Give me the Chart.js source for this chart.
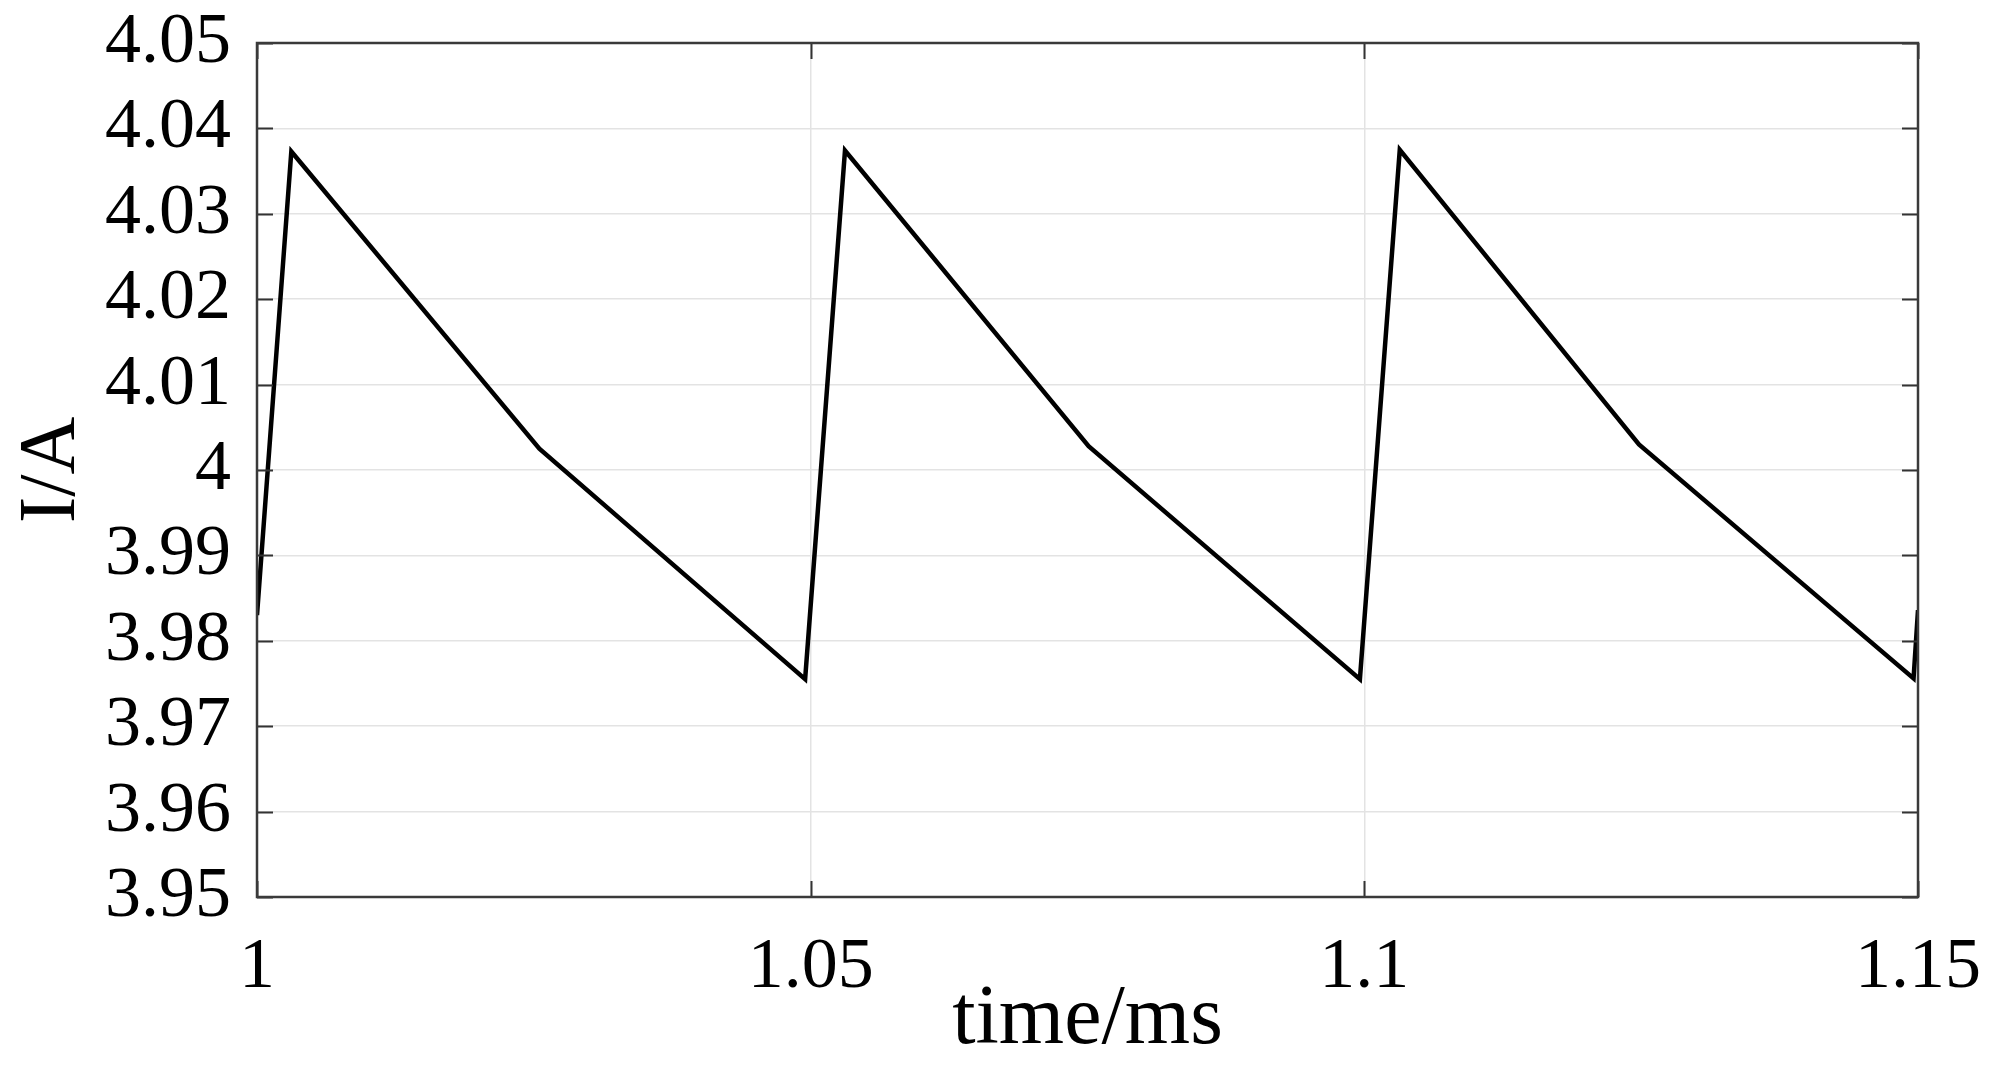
<!DOCTYPE html>
<html>
<head>
<meta charset="utf-8">
<script src="https://cdn.jsdelivr.net/npm/chart.js@4/dist/chart.umd.min.js"></script>
<style>
  html, body { margin: 0; padding: 0; background: #ffffff; }
  #wrap { width: 1995px; height: 1073px; }
</style>
</head>
<body>
<div id="wrap"><canvas id="c" width="1995" height="1073"></canvas></div>
<script>
// Data
const timeMs  = [1.0, 1.0031, 1.0255, 1.0495, 1.0531, 1.0751, 1.0996, 1.1032, 1.1248, 1.1496, 1.15];
const currentA = [3.983, 4.0373, 4.0025, 3.9755, 4.0374, 4.0028, 3.9755, 4.0375, 4.003, 3.9756, 3.9836];

const xTickValues = [1, 1.05, 1.1, 1.15];
const xTickLabels = ['1', '1.05', '1.1', '1.15'];
const yTickValues = [3.95, 3.96, 3.97, 3.98, 3.99, 4.0, 4.01, 4.02, 4.03, 4.04, 4.05];
const yTickLabels = ['3.95', '3.96', '3.97', '3.98', '3.99', '4', '4.01', '4.02', '4.03', '4.04', '4.05'];

const xTitle = 'time/ms';
const yTitle = 'I/A';

const points = timeMs.map((t, i) => ({ x: t, y: currentA[i] }));

const FONT = "'Liberation Serif', 'Times New Roman', serif";

const frameAndTicks = {
  id: 'frameAndTicks',
  afterDatasetsDraw(chart) {
    const { ctx, chartArea: a, scales } = chart;
    const tl = 16;
    ctx.save();
    ctx.strokeStyle = '#333333';
    ctx.lineWidth = 2;
    ctx.beginPath();
    yTickValues.forEach(v => {
      const y = Math.round(scales.y.getPixelForValue(v)) + 0.5;
      ctx.moveTo(a.left, y); ctx.lineTo(a.left + tl, y);
      ctx.moveTo(a.right, y); ctx.lineTo(a.right - tl, y);
    });
    xTickValues.forEach(v => {
      const x = Math.round(scales.x.getPixelForValue(v)) + 0.5;
      ctx.moveTo(x, a.bottom); ctx.lineTo(x, a.bottom - tl);
      ctx.moveTo(x, a.top); ctx.lineTo(x, a.top + tl);
    });
    ctx.stroke();
    ctx.strokeStyle = '#3a3a3a';
    ctx.lineWidth = 2.5;
    ctx.strokeRect(a.left, a.top, a.right - a.left, a.bottom - a.top);
    ctx.restore();
  }
};

new Chart(document.getElementById('c'), {
  type: 'line',
  data: {
    datasets: [{
      data: points,
      borderColor: '#000000',
      borderWidth: 4.5,
      pointRadius: 0,
      tension: 0,
      fill: false,
      borderJoinStyle: 'miter'
    }]
  },
  options: {
    responsive: false,
    animation: false,
    devicePixelRatio: 1,
    layout: { padding: { left: 0, right: 77, top: 43, bottom: 0 } },
    plugins: { legend: { display: false }, tooltip: { enabled: false } },
    scales: {
      x: {
        type: 'linear',
        min: 1, max: 1.15,
        afterFit(scale) {
          scale.height = 176;
          scale.paddingLeft = 0; scale.paddingRight = 0;
          scale.paddingTop = 0; scale.paddingBottom = 0;
        },
        afterBuildTicks(scale) { scale.ticks = xTickValues.map(v => ({ value: v })); },
        ticks: {
          autoSkip: false,
          maxRotation: 0,
          padding: 28,
          color: '#000000',
          font: { family: FONT, size: 72 },
          callback(v, i) { return xTickLabels[i]; }
        },
        grid: { color: '#e3e3e3', lineWidth: 1.5, drawTicks: false },
        border: { display: false },
        title: {
          display: true,
          text: xTitle,
          color: '#000000',
          font: { family: FONT, size: 84 },
          padding: { top: 2, bottom: 2 }
        }
      },
      y: {
        type: 'linear',
        min: 3.95, max: 4.05,
        afterFit(scale) {
          scale.width = 257;
          scale.paddingTop = 0; scale.paddingBottom = 0;
          scale.paddingLeft = 0; scale.paddingRight = 0;
        },
        afterBuildTicks(scale) { scale.ticks = yTickValues.map(v => ({ value: v })); },
        ticks: {
          autoSkip: false,
          padding: 26,
          color: '#000000',
          font: { family: FONT, size: 72 },
          callback(v, i) { return yTickLabels[i]; }
        },
        grid: { color: '#e3e3e3', lineWidth: 1.5, drawTicks: false },
        border: { display: false },
        title: {
          display: true,
          text: yTitle,
          color: '#000000',
          font: { family: FONT, size: 80 },
          padding: { top: 5, bottom: 5 }
        }
      }
    }
  },
  plugins: [frameAndTicks]
});
</script>
</body>
</html>
